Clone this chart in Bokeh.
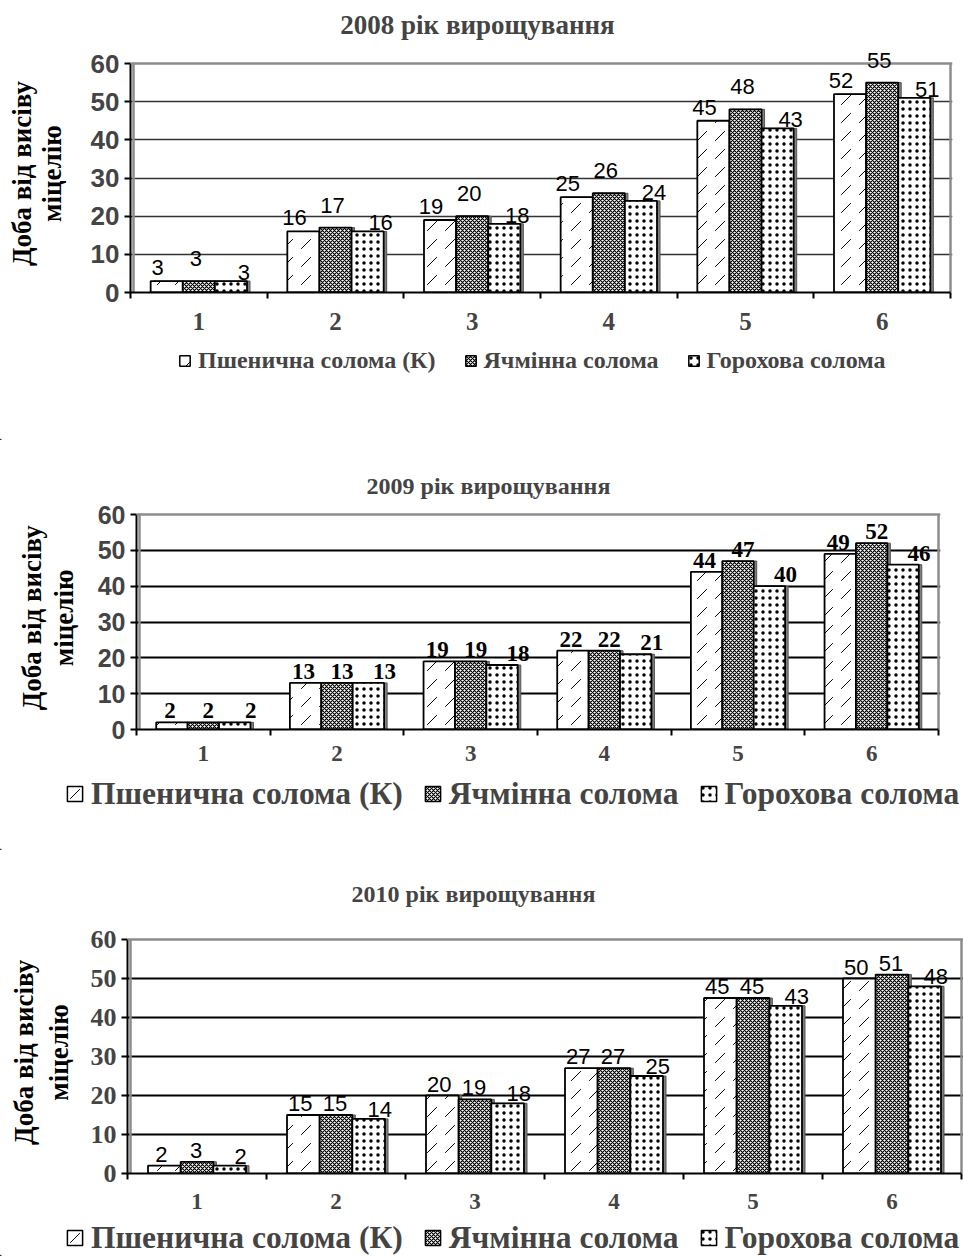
import math
from bokeh.plotting import figure
from bokeh.models import (ColumnDataSource, LabelSet, Label, Legend, LegendItem,
                          FixedTicker, Span, Range1d)
from bokeh.core.properties import value
from bokeh.layouts import column, row
from bokeh.embed import file_html
from bokeh.resources import INLINE

# ---------------- data ----------------
categories = [1, 2, 3, 4, 5, 6]
category_labels = ["1", "2", "3", "4", "5", "6"]
series_names = ["Пшенична солома (К)", "Ячмінна солома", "Горохова солома"]
y_ticks = [0, 10, 20, 30, 40, 50, 60]
grid_ticks = [10, 20, 30, 40, 50]
y_min, y_max = 0, 60
y_title_lines = ["Доба від висіву", "міцелію"]

title_2008 = "2008 рік вирощування"
wheat_2008 = [3, 16, 19, 25, 45, 52]
barley_2008 = [3, 17, 20, 26, 48, 55]
pea_2008 = [3, 16, 18, 24, 43, 51]

title_2009 = "2009 рік вирощування"
wheat_2009 = [2, 13, 19, 22, 44, 49]
barley_2009 = [2, 13, 19, 22, 47, 52]
pea_2009 = [2, 13, 18, 21, 40, 46]

title_2010 = "2010 рік вирощування"
wheat_2010 = [2, 15, 20, 27, 45, 50]
barley_2010 = [3, 15, 19, 27, 45, 51]
pea_2010 = [2, 14, 18, 25, 43, 48]

SERIF = "Liberation Serif"
SANS = "Liberation Sans"
W = 963
LW = 80          # width of the strip holding the y-axis title
BAR_W = 0.235
SIDE_PX = 3

hatches = [
    dict(hatch_pattern=",", hatch_scale=18, hatch_weight=1.0),
    dict(hatch_pattern="x", hatch_scale=4, hatch_weight=1.2),
    dict(hatch_pattern=".", hatch_scale=7, hatch_weight=3.4),
]


def strip(width, height):
    f = figure(width=width, height=height, x_range=Range1d(0, width),
               y_range=Range1d(0, height), output_backend="svg",
               toolbar_location=None, x_axis_type=None, y_axis_type=None,
               min_border_left=0, min_border_right=0, min_border_top=0,
               min_border_bottom=0)
    f.outline_line_color = None
    f.background_fill_color = "white"
    f.border_fill_color = "white"
    return f


def make_chart(title, series, st):
    left, top, right, bottom = st["plot"]        # plot-area edges, page px (chart-relative)
    Hc = st["chart_h"]
    px_x = (right - left) / 6.0
    px_y = (bottom - top) / float(y_max - y_min)

    def dx(px):
        return 0.5 + (px - left) / px_x

    def dy(py):
        return (bottom - py) / px_y

    frame_right = min(right + 2, W)
    p = figure(width=W - LW, height=Hc, output_backend="svg",
               toolbar_location=None,
               x_range=Range1d(0.5, dx(frame_right)),
               y_range=Range1d(y_min, dy(0)),
               min_border_top=0, min_border_bottom=Hc - bottom,
               min_border_left=left - LW, min_border_right=W - frame_right)
    p.outline_line_color = None
    p.background_fill_color = "white"
    p.border_fill_color = "white"

    # grid
    p.xgrid.grid_line_color = None
    p.ygrid.ticker = FixedTicker(ticks=grid_ticks)
    p.ygrid.grid_line_color = st["grid_color"]
    p.ygrid.grid_line_width = st["grid_width"]

    # plot-area border (grey top / right, grey line beside the left axis)
    side = SIDE_PX / px_x
    p.add_layout(Span(location=y_max, dimension="width", line_color="#8c8c8c",
                      line_width=2.5))
    p.segment(x0=[6.5, 0.5 + side], y0=[y_min, y_min], x1=[6.5, 0.5 + side],
              y1=[y_max, y_max], line_color="#8c8c8c", line_width=2.5)

    # y axis
    p.yaxis.ticker = FixedTicker(ticks=y_ticks)
    p.yaxis.bounds = (y_min, y_max)
    p.yaxis.axis_line_color = "black"
    p.yaxis.axis_line_width = 2
    p.yaxis.major_tick_in = 0
    p.yaxis.major_tick_out = 6
    p.yaxis.major_tick_line_width = 2
    p.yaxis.minor_tick_line_color = None
    p.yaxis.major_label_text_font = st["tick_font"]
    p.yaxis.major_label_text_font_style = "bold"
    p.yaxis.major_label_text_font_size = f"{st['tick_size']}px"
    p.yaxis.major_label_standoff = st["tick_standoff"]

    # x axis: labels at category centres, ticks between categories
    p.xaxis.ticker = FixedTicker(ticks=categories,
                                 minor_ticks=[c - 0.5 for c in categories] + [6.5])
    p.xaxis.bounds = (0.5, 6.5)
    p.xaxis.major_label_overrides = {c: lab for c, lab in zip(categories, category_labels)}
    p.xaxis.axis_line_color = "black"
    p.xaxis.axis_line_width = 2
    p.xaxis.major_tick_line_color = None
    p.xaxis.major_tick_in = 0
    p.xaxis.major_tick_out = 6
    p.xaxis.minor_tick_in = 0
    p.xaxis.minor_tick_out = 6
    p.xaxis.minor_tick_line_color = "black"
    p.xaxis.minor_tick_line_width = 2
    p.xaxis.major_label_text_font = SERIF
    p.xaxis.major_label_text_font_style = "bold"
    p.xaxis.major_label_text_font_size = f"{st['cat_size']}px"
    p.xaxis.major_label_standoff = st["cat_standoff"]

    for i, vals in enumerate(series):
        xs = [c + (i - 1) * BAR_W for c in categories]
        src = ColumnDataSource(dict(x=xs, top=vals, xs=[x + side for x in xs],
                                    lab=[str(v) for v in vals]))
        p.vbar(x="xs", top="top", width=BAR_W, source=src,
               fill_color="#808080", line_color="#555555", line_width=1)
        p.vbar(x="x", top="top", width=BAR_W, source=src,
               fill_color="white", line_color="black", line_width=1.8,
               hatch_color="black", **hatches[i])
        ox, oy = st["label_off"][i]
        p.add_layout(LabelSet(x="x", y="top", text="lab", source=src,
                              text_align="center", text_baseline="bottom",
                              x_offset=ox, y_offset=oy,
                              text_font=value(st["label_font"]),
                              text_font_style=st["label_style"],
                              text_font_size=f"{st['label_size']}px",
                              text_color="black"))

    # title (inside the extended frame, above the plot area)
    tx, ty = st["title_pos"]
    p.add_layout(Label(x=dx(tx), y=dy(ty), text=title, text_align="center",
                       text_baseline="middle", text_font=SERIF,
                       text_font_style="bold",
                       text_font_size=f"{st['title_size']}px"))

    # y-axis title strip
    ys = strip(LW, Hc)
    ymid = Hc - (top + bottom) / 2.0 - st["ylab_dy"]
    ys.text(x=st["ylab_x"], y=[ymid, ymid], text=y_title_lines, angle=math.pi / 2,
            text_align="center", text_baseline="middle",
            text_font=value(SERIF), text_font_style="bold",
            text_font_size=value(f"{st['ylab_size']}px"), text_color="black")

    # legend strip
    Hl = st["height"] - Hc
    ls = strip(W, Hl)
    items = []
    for i in range(3):
        d = ls.vbar(x=[-1000], top=[1], width=1, fill_color="white",
                    line_color="black", line_width=1.5, hatch_color="black",
                    **hatches[i])
        items.append(LegendItem(label=series_names[i], renderers=[d]))
    lx, lcy = st["legend_pos"]
    lh = st["legend_h"]
    legend = Legend(items=items, orientation="horizontal",
                    location=(lx, Hl - lcy - lh / 2.0),
                    border_line_color=None, background_fill_alpha=0,
                    label_text_font=SERIF, label_text_font_style="bold",
                    label_text_font_size=f"{st['legend_size']}px",
                    glyph_width=st["glyph"], glyph_height=st["glyph"],
                    spacing=st["legend_spacing"], padding=0, margin=0,
                    label_standoff=st["legend_standoff"])
    ls.add_layout(legend)

    return column(row(ys, p, spacing=0), ls, spacing=0)


style_2008 = dict(height=440, chart_h=340, plot=(130, 63, 950, 292),
                  title_pos=(477, 24), title_size=27,
                  tick_font=SANS, tick_size=26, tick_standoff=5,
                  label_font=SANS, label_style="normal", label_size=22,
                  label_off=[(-9, 6), (-3, 15), (13, 1)],
                  cat_size=25, cat_standoff=14,
                  legend_size=24, glyph=13, legend_spacing=28, legend_standoff=7,
                  legend_pos=(178, 20), legend_h=28,
                  grid_color="#333333", grid_width=1.5,
                  ylab_size=27, ylab_x=[21, 51], ylab_dy=24)
style_2009 = dict(height=410, chart_h=335, plot=(136, 74, 938, 289),
                  title_pos=(488, 45), title_size=24,
                  tick_font=SANS, tick_size=25, tick_standoff=5,
                  label_font=SERIF, label_style="bold", label_size=23,
                  label_off=[(-2, 4), (5, 4), (16, 4)],
                  cat_size=23, cat_standoff=10,
                  legend_size=31.5, glyph=19, legend_spacing=20, legend_standoff=7,
                  legend_pos=(65, 18), legend_h=37,
                  grid_color="black", grid_width=2,
                  ylab_size=27, ylab_x=[31, 63], ylab_dy=24)
style_2010 = dict(height=406, chart_h=368, plot=(127, 89, 961, 323),
                  title_pos=(473, 43), title_size=24,
                  tick_font=SERIF, tick_size=26, tick_standoff=5,
                  label_font=SANS, label_style="normal", label_size=22,
                  label_off=[(-3, 4), (-1, 4), (11, 2)],
                  cat_size=23, cat_standoff=14,
                  legend_size=31.5, glyph=19, legend_spacing=20, legend_standoff=7,
                  legend_pos=(65, 19), legend_h=37,
                  grid_color="black", grid_width=2,
                  ylab_size=27, ylab_x=[23, 58], ylab_dy=24)

c1 = make_chart(title_2008, [wheat_2008, barley_2008, pea_2008], style_2008)
c2 = make_chart(title_2009, [wheat_2009, barley_2009, pea_2009], style_2009)
c3 = make_chart(title_2010, [wheat_2010, barley_2010, pea_2010], style_2010)

layout = column(c1, c2, c3, spacing=0)
open("out.html", "w").write(file_html(layout, INLINE))
